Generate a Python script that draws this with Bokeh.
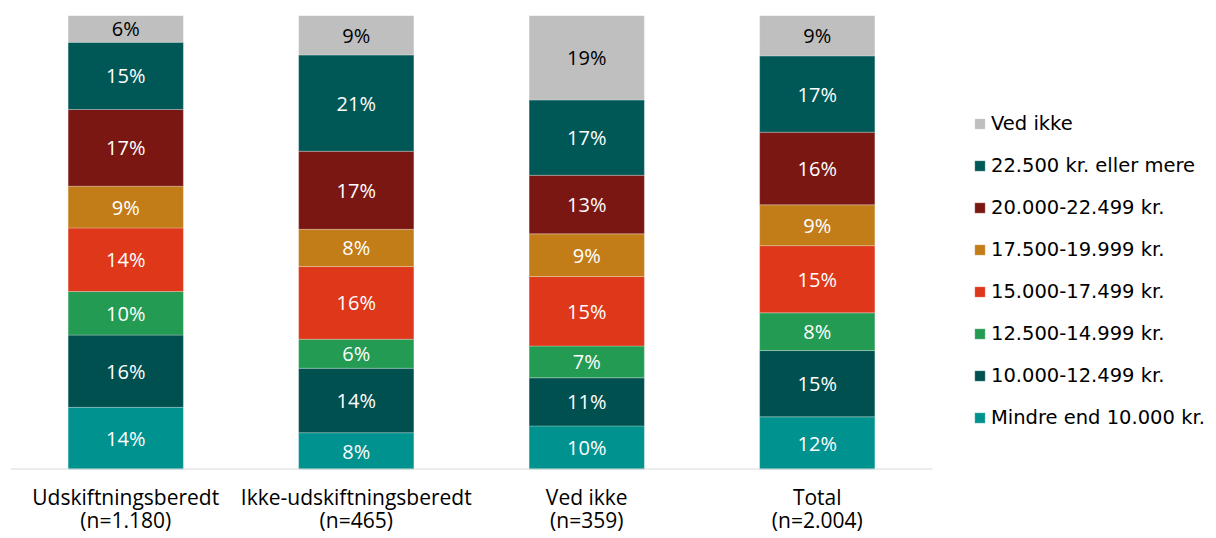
import numpy as np
from bokeh.plotting import figure
from bokeh.models import Range1d, FixedTicker, Legend, LegendItem
from bokeh.core.properties import value
from bokeh.embed import file_html
from bokeh.resources import INLINE

# ---- data ----
categories = ["Udskiftningsberedt\n(n=1.180)", "Ikke-udskiftningsberedt\n(n=465)",
              "Ved ikke\n(n=359)", "Total\n(n=2.004)"]
series_names = ["Mindre end 10.000 kr.", "10.000-12.499 kr.", "12.500-14.999 kr.",
                "15.000-17.499 kr.", "17.500-19.999 kr.", "20.000-22.499 kr.",
                "22.500 kr. eller mere", "Ved ikke"]
mindre = [13.7, 8.1, 9.6, 11.6]
s10000 = [15.9, 14.2, 10.6, 14.6]
s12500 = [9.6, 6.4, 7.0, 8.3]
s15000 = [14.0, 16.0, 15.3, 14.8]
s17500 = [9.2, 8.2, 9.4, 9.0]
s20000 = [16.9, 17.2, 12.9, 16.0]
s22500 = [14.8, 21.2, 16.6, 16.8]
ved_ikke = [5.9, 8.7, 18.6, 8.9]

colors = ["#00928f", "#00504f", "#239b53", "#de3719", "#c27c18", "#7b1712", "#005856", "#bfbfbf"]
label_colors = ["white"] * 7 + ["black"]

series = [mindre, s10000, s12500, s15000, s17500, s20000, s22500, ved_ikke]

FONT = "Open Sans"
LEG_FONT = "DejaVu Sans"

p = figure(width=1214, height=537, output_backend="svg", toolbar_location=None,
           x_range=Range1d(0, 1204 / 230.5), y_range=Range1d(0, 100),
           min_border_left=10, min_border_right=0, min_border_top=15, min_border_bottom=61)
p.outline_line_color = None
p.xgrid.visible = False
p.ygrid.visible = False
p.yaxis.visible = False
p.background_fill_color = "white"
p.border_fill_color = "white"

xs = np.arange(len(categories)) + 0.5
bottom = np.zeros(len(categories))
renderers = []
for name, vals, col, tcol in zip(series_names, series, colors, label_colors):
    vals = np.array(vals, dtype=float)
    top = bottom + vals
    r = p.vbar(x=xs, bottom=bottom, top=top, width=0.5, fill_color=col,
               line_color="white", line_alpha=0.25, line_width=1)
    renderers.append((name, r))
    p.text(x=xs, y=(bottom + top) / 2, text=[f"{round(v)}%" for v in vals],
           text_align="center", text_baseline="middle", text_color=tcol,
           text_font=value(FONT), text_font_size="20px")
    bottom = top

# baseline
p.segment(x0=[0], y0=[0], x1=[len(categories)], y1=[0], line_color="#d9d9d9", line_width=2)

ax = p.xaxis[0]
ax.ticker = FixedTicker(ticks=list(xs))
ax.major_label_overrides = {float(x): c for x, c in zip(xs, categories)}
ax.axis_line_color = None
ax.major_tick_line_color = None
ax.minor_tick_line_color = None
ax.major_tick_out = 0
ax.major_label_standoff = 13
ax.major_label_text_font = FONT
ax.major_label_text_font_size = "21px"
ax.major_label_text_line_height = 0.84
ax.major_label_text_color = "black"

legend = Legend(items=[LegendItem(label=n, renderers=[r]) for n, r in reversed(renderers)],
                location=(963, 40))
legend.label_text_font = LEG_FONT
legend.label_text_font_size = "19.5px"
legend.label_text_color = "black"
legend.glyph_width = 13
legend.glyph_height = 13
legend.label_height = 22
legend.spacing = 19
legend.label_standoff = 5
legend.padding = 0
legend.margin = 0
legend.border_line_color = None
legend.background_fill_alpha = 0
p.add_layout(legend)

open("out.html", "w").write(file_html(p, INLINE))
